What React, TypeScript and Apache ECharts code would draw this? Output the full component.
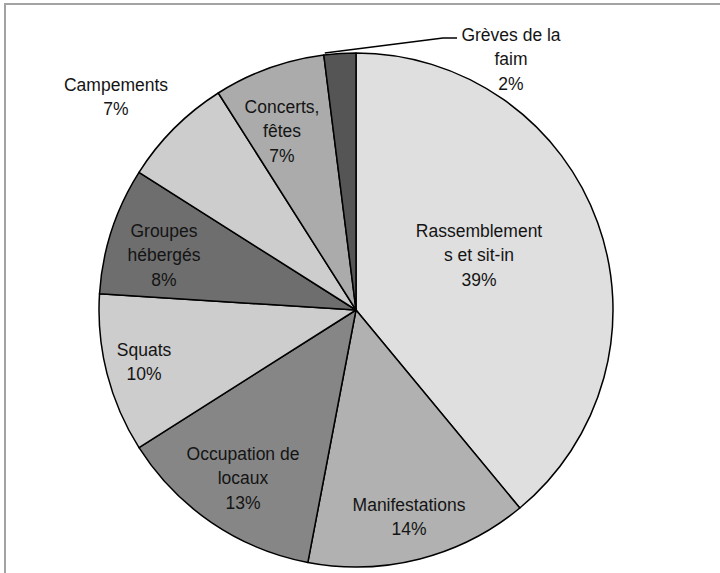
import React, { useEffect, useRef } from "react";
import * as echarts from "echarts";

const categories = [
  "Rassemblements et sit-in",
  "Manifestations",
  "Occupation de locaux",
  "Squats",
  "Groupes hébergés",
  "Campements",
  "Concerts, fêtes",
  "Grèves de la faim",
];
const labelTexts = [
  "Rassemblement\ns et sit-in",
  "Manifestations",
  "Occupation de\nlocaux",
  "Squats",
  "Groupes\nhébergés",
  "Campements",
  "Concerts,\nfêtes",
  "Grèves de la\nfaim",
];
const values = [39, 14, 13, 10, 8, 7, 7, 2];
const colors = ["#dfdfdf", "#b1b1b1", "#868686", "#cdcdcd", "#6e6e6e", "#cdcdcd", "#ababab", "#555555"];

// label anchor points (centre of each label block), in pixels
const labelAnchors = [
  [479, 255],
  [409, 517],
  [243, 478],
  [144, 362],
  [164, 255],
  [116, 97],
  [282, 131],
  [511, 59],
];

const CX = 356;
const CY = 310;
const R = 257;

export default function App() {
  const ref = useRef<HTMLDivElement>(null);
  useEffect(() => {
    if (!ref.current) return;
    const chart = echarts.init(ref.current, null, { renderer: "svg" });
    const total = values.reduce((a, b) => a + b, 0);
    const lastIdx = values.length - 1;
    const startCum = values.slice(0, lastIdx).reduce((a, b) => a + b, 0);
    const startAngle = (startCum / total) * Math.PI * 2;
    const lineStart = [CX + R * Math.sin(startAngle) + 1, CY - R * Math.cos(startAngle) - 2];

    chart.setOption({
      animation: false,
      backgroundColor: "#ffffff",
      graphic: [
        {
          type: "rect",
          shape: { x: 5, y: 4, width: 800, height: 700 },
          style: { fill: "none", stroke: "#a3a3a3", lineWidth: 2 },
          silent: true,
        },
      ],
      series: [
        {
          type: "pie",
          center: [CX, CY],
          radius: R,
          startAngle: 90,
          clockwise: true,
          avoidLabelOverlap: false,
          itemStyle: { borderColor: "#000000", borderWidth: 1.5 },
          emphasis: { disabled: true },
          label: {
            show: true,
            position: "outside",
            fontFamily: "'Liberation Sans', Arial, sans-serif",
            fontSize: 17.5,
            lineHeight: 24.5,
            color: "#141414",
            align: "center",
            formatter: (p: any) => `${labelTexts[p.dataIndex]}\n${p.value}%`,
          },
          labelLine: { show: false, lineStyle: { color: "#000000", width: 1.5 } },
          labelLayout: (p: any) => {
            const a = labelAnchors[p.dataIndex];
            const res: any = { x: a[0], y: a[1], align: "center", verticalAlign: "middle" };
            if (p.dataIndex === lastIdx) {
              res.labelLinePoints = [lineStart, [443, 38], [457, 38]];
            }
            return res;
          },
          data: categories.map((name, i) => ({
            name,
            value: values[i],
            itemStyle: { color: colors[i] },
            labelLine: i === lastIdx ? { show: true } : { show: false },
          })),
        },
      ],
    });
    return () => chart.dispose();
  }, []);
  return (
    <div
      ref={ref}
      style={{ position: "absolute", left: 0, top: 0, width: 720, height: 573 }}
    />
  );
}
